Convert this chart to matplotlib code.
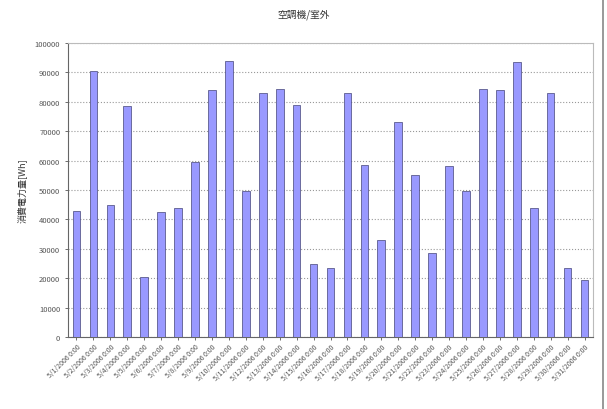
import matplotlib
matplotlib.use("Agg")
import matplotlib.pyplot as plt
import numpy as np

plt.rcParams["font.family"] = ["Noto Sans CJK JP", "DejaVu Sans"]

# 日付ラベル (5月の各日)
days = list(range(1, 32))
labels = ["5/%d/2006 0:00" % d for d in days]

# 消費電力量 [Wh]
values = [43000, 90500, 45000, 78500, 20500, 42500, 44000, 59500, 84000, 94000,
          49500, 83000, 84500, 79000, 25000, 23500, 83000, 58500, 33000, 73000,
          55000, 28500, 58000, 49500, 84500, 84000, 93500, 44000, 83000, 23500,
          19500]

title = "空調機/室外"
ylabel = "消費電力量[Wh]"
yticks = list(range(0, 100001, 10000))

fig = plt.figure(figsize=(6.07, 4.10), dpi=100)
ax = fig.add_axes([68 / 607, 72 / 410, (593 - 68) / 607, (338 - 44) / 410])

x = np.arange(len(values))
ax.bar(x, values, width=0.45, color="#9999FF", edgecolor="#444477", linewidth=0.5, zorder=3)

ax.set_xlim(-0.5, len(values) - 0.5)
ax.set_ylim(0, 100000)
ax.set_yticks(yticks)
ax.set_yticklabels([str(v) for v in yticks], fontsize=5.5, color="#333333")
ax.set_xticks(x)
ax.set_xticklabels(labels, rotation=45, ha="right", rotation_mode="anchor", fontsize=5, color="#333333")
ax.tick_params(axis="both", length=2, width=0.6, colors="#555555")
ax.tick_params(axis="x", pad=2)

ax.yaxis.grid(True, linestyle=":", color="#999999", linewidth=0.8, zorder=0)

for side in ["top", "right"]:
    ax.spines[side].set_color("#bbbbbb")
for side in ["left", "bottom"]:
    ax.spines[side].set_color("#666666")
    ax.spines[side].set_linewidth(0.8)

ax.set_ylabel(ylabel, fontsize=6.5, color="#333333", labelpad=6)
fig.text(0.5, 1 - 15 / 410, title, ha="center", va="center", fontsize=7, color="#333333")

# 右端の枠線
fig.add_artist(plt.Line2D([603 / 607, 603 / 607], [0, 1], color="#888888", linewidth=1.2))

fig.savefig("out.png", dpi=100)
